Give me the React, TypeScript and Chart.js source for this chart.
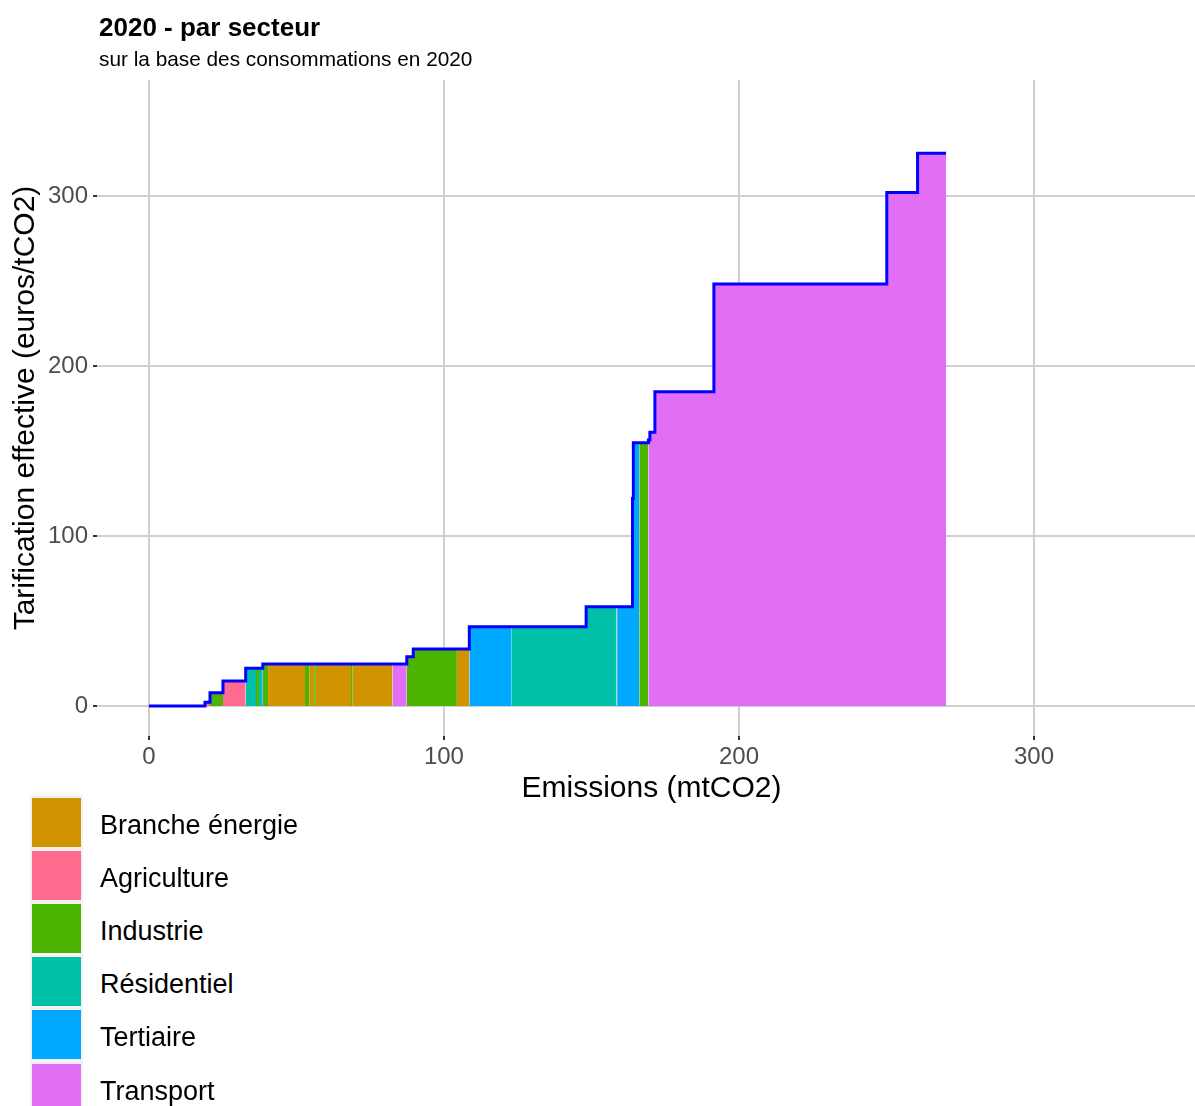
import React, { useEffect, useRef } from "react";
import { Chart, registerables } from "chart.js";

Chart.register(...registerables);

// ---- Data ----
const SECTORS = ["Branche énergie", "Agriculture", "Industrie", "Résidentiel", "Tertiaire", "Transport"];
const SECTOR_COLORS = ["#CF9400", "#FF6C90", "#4BB400", "#00C1A7", "#00A9FF", "#E36EF6"];

// Segments sorted by effective price: sector, emissions (mtCO2), price (euros/tCO2)
const SEG_SECTOR = [
  "Agriculture", "Agriculture", "Industrie", "Agriculture", "Résidentiel", "Industrie",
  "Résidentiel", "Tertiaire", "Industrie", "Branche énergie", "Industrie", "Branche énergie",
  "Industrie", "Branche énergie", "Industrie", "Branche énergie", "Transport", "Industrie",
  "Industrie", "Branche énergie", "Tertiaire", "Résidentiel", "Résidentiel", "Branche énergie",
  "Tertiaire", "Tertiaire", "Tertiaire", "Tertiaire", "Tertiaire", "Industrie",
  "Transport", "Transport", "Transport", "Transport", "Transport", "Transport", "Transport",
];
const SEG_EMISSIONS = [
  19.0, 1.7, 4.4, 7.7, 3.5, 1.0,
  0.7, 0.6, 1.8, 12.5, 1.4, 1.7,
  0.6, 11.9, 0.6, 13.5, 4.8, 2.2,
  14.8, 4.2, 14.2, 25.4, 10.3, 0.2,
  5.1, 0.1, 0.1, 0.2, 2.0, 3.1,
  0.5, 1.7, 20.0, 58.6, 10.3, 0.2, 9.6,
];
const SEG_PRICE = [
  0, 2.2, 7.8, 14.7, 22.2, 22.2,
  22.2, 22.2, 24.7, 24.7, 24.7, 24.7,
  24.7, 24.7, 24.7, 24.7, 24.7, 29.0,
  33.5, 33.5, 46.6, 46.6, 58.4, 58.4,
  58.4, 83, 100, 122, 154.8, 154.8,
  156.5, 161, 184.9, 248.2, 302, 318, 325.1,
];

const X_TICKS = [0, 100, 200, 300];
const Y_TICKS = [0, 100, 200, 300];

const TITLE = "2020 - par secteur";
const SUBTITLE = "sur la base des consommations en 2020";
const X_TITLE = "Emissions (mtCO2)";
const Y_TITLE = "Tarification effective (euros/tCO2)";

const FONT = '"Liberation Sans", Arial, Helvetica, sans-serif';

export default function App() {
  const ref = useRef<HTMLCanvasElement>(null);

  useEffect(() => {
    const canvas = ref.current;
    if (!canvas) return;
    let cx = 0;
    const stepPts: { x: number; y: number }[] = [];
    const rectSets: any[] = [];
    let run: { x: number; y: number }[] = [];
    let runSector = "";
    const flush = () => {
      if (!run.length) return;
      rectSets.push({
        type: "line",
        data: run,
        borderWidth: 0,
        borderColor: "rgba(0,0,0,0)",
        backgroundColor: SECTOR_COLORS[SECTORS.indexOf(runSector)],
        fill: "origin",
        pointRadius: 0,
        order: 1,
      });
      run = [];
    };
    SEG_EMISSIONS.forEach((w, i) => {
      const x0 = cx;
      const x1 = cx + w;
      cx = x1;
      const p = SEG_PRICE[i];
      stepPts.push({ x: x0, y: p }, { x: x1, y: p });
      if (SEG_SECTOR[i] !== runSector) {
        flush();
        runSector = SEG_SECTOR[i];
      }
      run.push({ x: x0, y: p }, { x: x1, y: p });
    });
    flush();

    const chart = new Chart(canvas, {
      type: "line",
      data: {
        datasets: [
          {
            type: "line",
            data: stepPts,
            borderColor: "#0000FF",
            borderWidth: 3,
            borderJoinStyle: "miter",
            pointRadius: 0,
            fill: false,
            order: 0,
          } as any,
          ...rectSets,
        ],
      },
      options: {
        animation: false,
        responsive: false,
        devicePixelRatio: 1,
        layout: { padding: { top: 80, left: 0, right: 0, bottom: 0 } },
        plugins: { legend: { display: false }, tooltip: { enabled: false } },
        scales: {
          x: {
            type: "linear",
            min: -17.6,
            max: 358.3,
            afterBuildTicks: (s: any) => {
              s.ticks = X_TICKS.map((v) => ({ value: v }));
            },
            afterFit: (s: any) => {
              s.height = 71;
            },
            grid: { color: "#D0D0D0", lineWidth: 2, tickLength: 4, tickColor: "#333333", tickWidth: 2 },
            border: { display: false },
            ticks: { font: { family: FONT, size: 24 }, color: "#4D4D4D", padding: 3, maxRotation: 0 },
            title: { display: true, text: X_TITLE, font: { family: FONT, size: 30 }, color: "#000000", padding: 0 },
          },
          y: {
            type: "linear",
            min: -17.65,
            max: 368.2,
            afterBuildTicks: (s: any) => {
              s.ticks = Y_TICKS.map((v) => ({ value: v }));
            },
            afterFit: (s: any) => {
              s.width = 97;
            },
            grid: { color: "#D0D0D0", lineWidth: 2, tickLength: 4, tickColor: "#333333", tickWidth: 2 },
            border: { display: false },
            ticks: { font: { family: FONT, size: 24 }, color: "#4D4D4D", padding: 5 },
            title: { display: true, text: Y_TITLE, font: { family: FONT, size: 30 }, color: "#000000", padding: { top: 8, bottom: 0 } },
          },
        },
      } as any,
    });
    return () => chart.destroy();
  }, []);

  return (
    <div
      style={{
        position: "absolute",
        left: 0,
        top: 0,
        width: 1195,
        height: 1106,
        overflow: "hidden",
        background: "#FFFFFF",
        fontFamily: FONT,
      }}
    >
      <canvas
        ref={ref}
        width={1206}
        height={807}
        style={{ position: "absolute", left: 0, top: 0, width: 1206, height: 807, display: "block" }}
      />
      <div
        style={{
          position: "absolute",
          left: 99,
          top: 12,
          fontSize: 26,
          lineHeight: "30px",
          fontWeight: "bold",
          color: "#000",
          whiteSpace: "nowrap",
        }}
      >
        {TITLE}
      </div>
      <div
        style={{
          position: "absolute",
          left: 99,
          top: 47,
          fontSize: 20.8,
          lineHeight: "24px",
          color: "#000",
          whiteSpace: "nowrap",
        }}
      >
        {SUBTITLE}
      </div>
      <div style={{ position: "absolute", left: 30, top: 795, width: 53, height: 320, background: "#F2F2F2" }} />
      {SECTORS.map((s, i) => (
        <React.Fragment key={s}>
          <div
            style={{
              position: "absolute",
              left: 32,
              top: 798 + 53.1 * i,
              width: 49,
              height: 49,
              background: SECTOR_COLORS[i],
            }}
          />
          <div
            style={{
              position: "absolute",
              left: 100,
              top: 810 + 53.1 * i,
              fontSize: 27,
              lineHeight: "30px",
              color: "#000",
              whiteSpace: "nowrap",
            }}
          >
            {s}
          </div>
        </React.Fragment>
      ))}
    </div>
  );
}
